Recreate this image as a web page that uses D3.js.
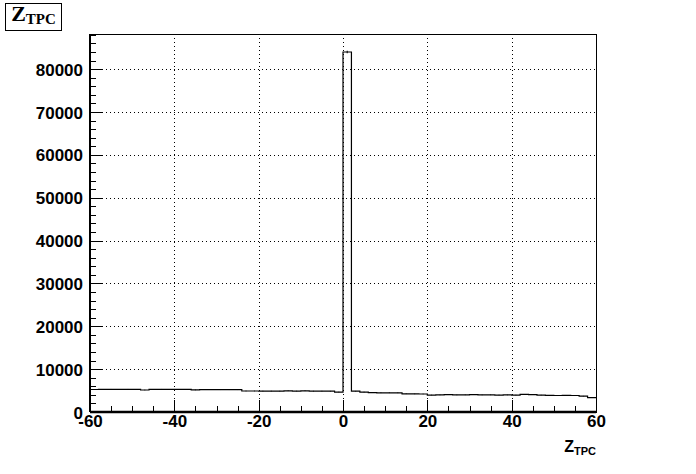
<!DOCTYPE html>
<html>
<head>
<script src="https://d3js.org/d3.v7.min.js"></script>
<style>
  body { margin: 0; background: #fff; }
  svg text { fill: #000; }
</style>
</head>
<body>
<div class="chart"></div>
<script>
// histogram: 60 bins of width 2 from -60 to 60
var xLow = -60;
var binWidth = 2;
var counts = [
  5250, 5280, 5300, 5290, 5300, 5290, 5130, 5280, 5300, 5290,
  5280, 5270, 5150, 5220, 5210, 5200, 5200, 5200, 4900, 4900,
  4880, 4880, 4870, 4950, 4880, 4950, 4870, 4870, 4850, 4650,
  84000, 4850, 4650, 4500, 4480, 4480, 4470, 4250, 4220, 4200,
  3960, 3980, 4050, 3980, 4000, 4050, 3980, 4000, 3960, 3980,
  3950, 4100, 4050, 3950, 3880, 3850, 3900, 3850, 3700, 3350
];
var xTicks = [-60, -40, -20, 0, 20, 40, 60];
var yTicks = [0, 10000, 20000, 30000, 40000, 50000, 60000, 70000, 80000];

var W = 696, H = 474;
var mLeft = 90, mRight = 596, mTop = 34, mBottom = 412;

var x = d3.scaleLinear().domain([-60, 60]).range([mLeft, mRight]);
var y = d3.scaleLinear().domain([0, 88200]).range([mBottom, mTop]);

var svg = d3.select("div.chart").append("svg")
  .attr("width", W).attr("height", H);

// grid
var grid = svg.append("g").attr("stroke", "#000").attr("stroke-width", 1)
  .attr("stroke-dasharray", "1,3").attr("shape-rendering", "crispEdges");
grid.selectAll("line.gx").data(xTicks.slice(1, -1)).enter().append("line")
  .attr("x1", d => Math.round(x(d)) + 0.5).attr("x2", d => Math.round(x(d)) + 0.5)
  .attr("y1", mTop).attr("y2", mBottom);
grid.selectAll("line.gy").data(yTicks.slice(1)).enter().append("line")
  .attr("y1", d => Math.round(y(d)) + 0.5).attr("y2", d => Math.round(y(d)) + 0.5)
  .attr("x1", mLeft).attr("x2", mRight);

// frame (top & right thin)
svg.append("rect").attr("x", mLeft + 0.5).attr("y", mTop + 0.5)
  .attr("width", mRight - mLeft).attr("height", mBottom - mTop)
  .attr("fill", "none").attr("stroke", "#000").attr("stroke-width", 1)
  .attr("shape-rendering", "crispEdges");

// histogram outline
var pts = [];
counts.forEach(function(c, i) {
  var a = xLow + i * binWidth, b = a + binWidth;
  pts.push([x(a), y(c)]);
  pts.push([x(b), y(c)]);
});
var line = d3.line().x(d => d[0]).y(d => d[1]);
svg.append("path").attr("d", line(pts))
  .attr("fill", "none").attr("stroke", "#000").attr("stroke-width", 1.2);

// error bars
svg.append("g").selectAll("line").data(counts).enter().append("line")
  .attr("x1", (d, i) => x(xLow + (i + 0.5) * binWidth))
  .attr("x2", (d, i) => x(xLow + (i + 0.5) * binWidth))
  .attr("y1", d => y(d + Math.sqrt(d)))
  .attr("y2", d => y(d - Math.sqrt(d)))
  .attr("stroke", "#000").attr("stroke-width", 1);

// x axis
var xAxis = d3.axisBottom(x).tickValues(xTicks).tickSize(-12).tickPadding(3)
  .tickFormat(d3.format("d"));
var gx = svg.append("g").attr("transform", "translate(0," + mBottom + ")").call(xAxis);
gx.selectAll(".tick text").text(d => d < 0 ? "-" + Math.abs(d) : d);
var gxMinor = svg.append("g").attr("transform", "translate(0," + mBottom + ")")
  .call(d3.axisBottom(x).tickValues(d3.range(-60, 61, 5)).tickSize(-6).tickFormat(""));
gxMinor.select(".domain").remove();

// y axis
var yAxis = d3.axisLeft(y).tickValues(yTicks).tickSize(-12).tickPadding(7)
  .tickFormat(d3.format("d"));
var gy = svg.append("g").attr("transform", "translate(" + mLeft + ",0)").call(yAxis);
var gyMinor = svg.append("g").attr("transform", "translate(" + mLeft + ",0)")
  .call(d3.axisLeft(y).tickValues(d3.range(0, 88001, 2000)).tickSize(-6).tickFormat(""));
gyMinor.select(".domain").remove();

[gx, gy, gxMinor, gyMinor].forEach(function(g) {
  g.selectAll("line").attr("stroke", "#000").attr("stroke-width", 1)
    .attr("shape-rendering", "crispEdges");
  g.selectAll("text").attr("font-family", "Liberation Sans, Arial, sans-serif")
    .attr("font-weight", "bold").attr("font-size", 17).attr("fill", "#000");
});
gx.select(".domain").attr("stroke", "#000").attr("stroke-width", 2.5)
  .attr("d", "M" + mLeft + ",0H" + mRight);
gy.select(".domain").attr("stroke", "#000").attr("stroke-width", 2)
  .attr("d", "M0," + mTop + "V" + mBottom);
gy.selectAll(".tick text").attr("dy", "0.36em");

// x axis title
var xt = svg.append("text").attr("x", mRight).attr("y", 452)
  .attr("text-anchor", "end")
  .attr("font-family", "Liberation Sans, Arial, sans-serif").attr("font-weight", "bold");
xt.append("tspan").attr("font-size", 16).text("Z");
xt.append("tspan").attr("font-size", 11).attr("dy", 3).text("TPC");

// title box
svg.append("rect").attr("x", 5.5).attr("y", 3.5).attr("width", 56).attr("height", 27)
  .attr("fill", "#fff").attr("stroke", "#000").attr("stroke-width", 1);
var tt = svg.append("text").attr("x", 33.5).attr("y", 21)
  .attr("text-anchor", "middle")
  .attr("font-family", "Liberation Serif, Times New Roman, serif").attr("font-weight", "bold");
tt.append("tspan").attr("font-size", 22).text("Z");
tt.append("tspan").attr("font-size", 15).attr("dy", 3).text("TPC");
</script>
</body>
</html>
